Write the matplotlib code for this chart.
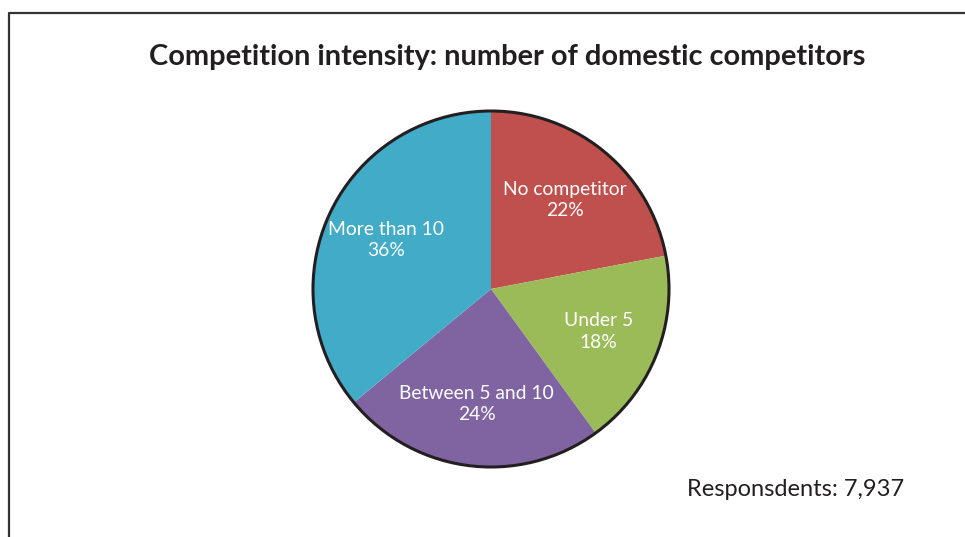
import matplotlib
matplotlib.use('Agg')
import matplotlib.pyplot as plt
from matplotlib.lines import Line2D
from matplotlib.patches import Circle

labels = ['No competitor', 'Under 5', 'Between 5 and 10', 'More than 10']
shares = [22, 18, 24, 36]
colors = ['#C0504D', '#9BBB59', '#8064A2', '#41ABC8']

plt.rcParams['font.family'] = ['Lato', 'DejaVu Sans']

W, H = 965, 537
fig = plt.figure(figsize=(W / 100, H / 100), dpi=100)

# frame (left and top only, rest is cut off)
fig.add_artist(Line2D([9 / W, 9 / W, 1.0], [0.0, 1 - 13 / H, 1 - 13 / H],
                      color='#333333', lw=1.6, transform=fig.transFigure))

fig.text(507 / W, 1 - 57 / H, 'Competition intensity: number of domestic competitors',
         ha='center', va='center', fontsize=20.9, fontweight='bold', color='#231F20')

cx, cy, r = 491, 289, 178
ax = fig.add_axes([(cx - r) / W, (H - cy - r) / H, 2 * r / W, 2 * r / H])
txt = [f'{l}\n{s}%' for l, s in zip(labels, shares)]
wedges, texts = ax.pie(shares, colors=colors, startangle=90, counterclock=False,
                       labels=txt, labeldistance=0.65,
                       textprops=dict(color='white', fontsize=13.9, linespacing=1.3),
                       wedgeprops=dict(linewidth=0))
for t in texts:
    t.set_ha('center')
    t.set_va('center')
ax.add_patch(Circle((0, 0), 1, fill=False, edgecolor='#231F20', lw=2.2, clip_on=False))
ax.set_xlim(-1.0, 1.0)
ax.set_ylim(-1.0, 1.0)
ax.set_aspect('equal')
ax.axis('off')

fig.text(687 / W, 1 - 490 / H, 'Responsdents: 7,937', ha='left', va='center',
         fontsize=17, color='#231F20')

fig.savefig('out.png', dpi=100, facecolor='white')
